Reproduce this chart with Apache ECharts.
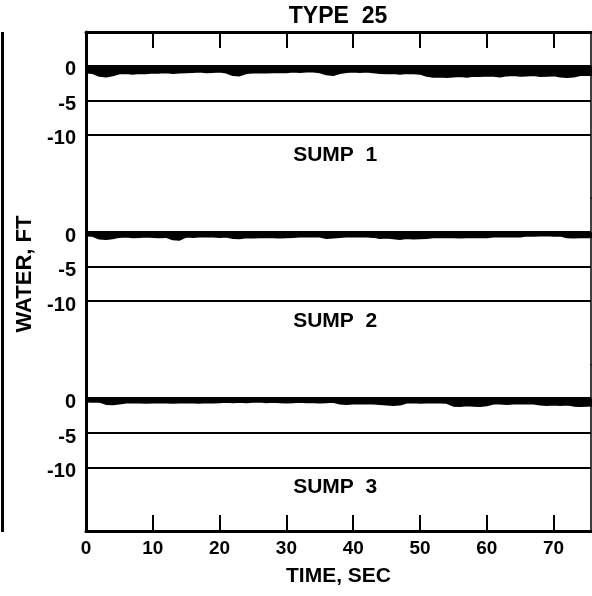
<!DOCTYPE html>
<html>
<head>
<meta charset="utf-8">
<script src="https://cdn.jsdelivr.net/npm/echarts@6/dist/echarts.min.js"></script>
<style>
  html, body { margin: 0; padding: 0; background: #fff; }
  #chart { width: 592px; height: 596px; }
</style>
</head>
<body>
<div id="chart"></div>
<script>
// Time base, seconds
const times = [0,1,2,3,4,5,6,7,8,9,10,11,12,13,14,15,16,17,18,19,20,21,22,23,24,25,26,27,28,29,30,31,32,33,34,35,36,37,38,39,40,41,42,43,44,45,46,47,48,49,50,51,52,53,54,55,56,57,58,59,60,61,62,63,64,65,66,67,68,69,70,71,72,73,74,75,76];

// Water level trace (ft) in each sump
const sump1 = [-0.95,-1.0,
  -1.4,-1.5,-1.35,
  -1.05,-1.0,-1.1,-1.0,-1.05,-0.95,
  -0.95,-0.9,-1.0,-0.95,-0.9,
  -0.85,-0.8,-0.9,-0.85,-0.8,
  -0.95,-1.3,-1.35,-1.0,
  -0.95,-0.9,-0.95,-0.9,-0.85,-0.9,
  -0.8,-0.85,-0.8,-0.8,-0.9,
  -1.2,-1.3,-1.0,
  -0.85,-0.8,-0.85,-0.8,-0.9,
  -1.0,-1.05,-1.0,-1.1,-1.0,-1.05,-1.1,
  -1.4,-1.55,-1.5,-1.6,-1.5,-1.45,-1.55,
  -1.4,-1.45,-1.35,-1.4,-1.5,-1.35,
  -1.3,-1.4,-1.35,-1.3,-1.45,-1.4,-1.35,
  -1.5,-1.6,-1.5,
  -1.3,-1.25,-1.3];

const sump2 = [-0.45,-0.5,
  -0.9,-0.95,-0.85,
  -0.65,-0.6,-0.7,-0.65,-0.6,-0.65,-0.7,-0.65,
  -1.0,-1.05,
  -0.6,-0.65,-0.6,-0.55,-0.6,-0.65,-0.6,
  -0.8,-0.85,
  -0.7,-0.75,-0.7,-0.65,-0.7,-0.75,-0.7,-0.65,
  -0.6,-0.6,-0.55,-0.6,
  -0.8,-0.75,-0.65,
  -0.6,-0.6,-0.55,-0.6,-0.65,
  -0.8,-0.75,-0.85,-0.95,-0.8,
  -0.9,-0.85,-0.8,
  -0.7,-0.7,-0.65,-0.7,-0.75,-0.7,-0.65,-0.7,-0.7,
  -0.6,-0.6,-0.55,-0.6,-0.6,
  -0.45,-0.5,-0.45,-0.4,-0.5,-0.45,
  -0.7,-0.75,-0.7,-0.65,-0.7];

const sump3 = [-0.4,-0.45,-0.4,
  -0.75,-0.8,-0.7,
  -0.55,-0.5,-0.55,-0.6,-0.55,-0.5,-0.55,-0.6,-0.55,-0.5,
  -0.55,-0.6,-0.5,-0.55,-0.5,
  -0.45,-0.5,-0.45,-0.5,-0.45,-0.4,-0.5,-0.45,-0.5,-0.55,-0.5,-0.45,-0.5,-0.5,-0.55,-0.5,-0.45,
  -0.7,-0.75,-0.7,-0.65,-0.7,-0.7,-0.75,
  -0.85,-0.9,-0.85,
  -0.55,-0.5,-0.6,-0.55,-0.5,-0.55,-0.6,
  -1.0,-1.05,-0.95,-1.0,-1.05,-0.95,
  -0.7,-0.7,-0.75,-0.7,-0.65,-0.7,-0.7,
  -0.85,-0.9,-0.85,-0.9,-0.85,
  -1.0,-1.05,-1.0,-0.95];

const sumpSeries = [sump1, sump2, sump3];
const panelNames = ['SUMP  1', 'SUMP  2', 'SUMP  3'];

// Axis ticks and reference levels
const yLabelValues = [0, -5, -10];
const guideLevels = [-5, -10];
const xTickValues = [10, 20, 30, 40, 50, 60, 70];
const xLabelValues = [0, 10, 20, 30, 40, 50, 60, 70];
const panelNameAt = [37.3, -12.9];

const FONT = 'Liberation Sans';
const PLOT_TOP = 32, PLOT_BOTTOM = 531, LEFT = 86, RIGHT = 1;
const panelH = (PLOT_BOTTOM - PLOT_TOP) / 3;
const Y_MIN = -19.2, Y_MAX = 4.9, X_MAX = 75.6;

const grids = [], xAxes = [], yAxes = [], series = [];
for (let i = 0; i < 3; i++) {
  grids.push({ left: LEFT, right: RIGHT, top: PLOT_TOP + i * panelH, height: panelH });

  const xa = {
    type: 'value', gridIndex: i, min: 0, max: X_MAX,
    position: i === 0 ? 'top' : 'bottom',
    show: i !== 1,
    splitLine: { show: false },
    axisLine: { show: true, onZero: false, lineStyle: { color: '#000', width: 3 } },
    axisTick: { show: true, inside: true, length: 16, customValues: xTickValues,
                lineStyle: { color: '#000', width: 2 } },
    axisLabel: { show: i === 2, customValues: xLabelValues, margin: 8,
                 color: '#000', fontFamily: FONT, fontWeight: 'bold', fontSize: 19 }
  };
  if (i === 2) {
    xa.name = 'TIME, SEC';
    xa.nameLocation = 'middle';
    xa.nameGap = 35;
    xa.nameTextStyle = { color: '#000', fontFamily: FONT, fontWeight: 'bold', fontSize: 21 };
  }
  xAxes.push(xa);

  yAxes.push({
    type: 'value', gridIndex: i, min: Y_MIN, max: Y_MAX, position: 'left',
    splitLine: { show: false },
    axisLine: { show: true, onZero: false, lineStyle: { color: '#000', width: 3 } },
    axisTick: { show: false },
    axisLabel: { customValues: yLabelValues, margin: 10, verticalAlign: 'top', lineHeight: 8,
                 color: '#000', fontFamily: FONT, fontWeight: 'bold', fontSize: 20 }
  });
  yAxes.push({
    type: 'value', gridIndex: i, min: Y_MIN, max: Y_MAX, position: 'right',
    splitLine: { show: false },
    axisLine: { show: true, onZero: false, lineStyle: { color: '#000', width: 1.5 } },
    axisTick: { show: false }, axisLabel: { show: false }
  });

  series.push({
    type: 'line',
    xAxisIndex: i, yAxisIndex: i * 2,
    data: times.map((t, k) => [t, sumpSeries[i][k]]),
    showSymbol: false, symbol: 'none',
    lineStyle: { color: '#000', width: 2.5 },
    areaStyle: { color: '#000', opacity: 1, origin: 0 },
    animation: false,
    markLine: {
      silent: true, symbol: 'none', animation: false,
      label: { show: false },
      data: [
        { yAxis: 0, lineStyle: { color: '#000', width: 3, type: 'solid' } },
        ...guideLevels.map(v => ({ yAxis: v, lineStyle: { color: '#000', width: 2, type: 'solid' } }))
      ]
    },
    markPoint: {
      silent: true, animation: false,
      symbol: 'rect', symbolSize: [1, 1],
      itemStyle: { color: 'rgba(0,0,0,0)' },
      label: { show: true, position: 'inside', formatter: panelNames[i],
               color: '#000', fontFamily: FONT, fontWeight: 'bold', fontSize: 21 },
      data: [{ coord: panelNameAt }]
    }
  });
}

const chart = echarts.init(document.getElementById('chart'), null, { renderer: 'canvas' });
chart.setOption({
  backgroundColor: '#fff',
  animation: false,
  grid: grids,
  xAxis: xAxes,
  yAxis: yAxes,
  series: series,
  graphic: [
    { type: 'text', x: 338, y: 17,
      style: { text: 'TYPE  25', fill: '#000', font: 'bold 23px "Liberation Sans"',
               textAlign: 'center', textVerticalAlign: 'middle' } },
    { type: 'rect', left: 1, top: PLOT_TOP, shape: { width: 3, height: PLOT_BOTTOM - PLOT_TOP + 1 },
      style: { fill: '#000' } },
    { type: 'text', x: 25, y: 274, rotation: Math.PI / 2,
      style: { text: 'WATER, FT', fill: '#000', font: 'bold 22px "Liberation Sans"',
               textAlign: 'center', textVerticalAlign: 'middle' } }
  ]
});
</script>
</body>
</html>
